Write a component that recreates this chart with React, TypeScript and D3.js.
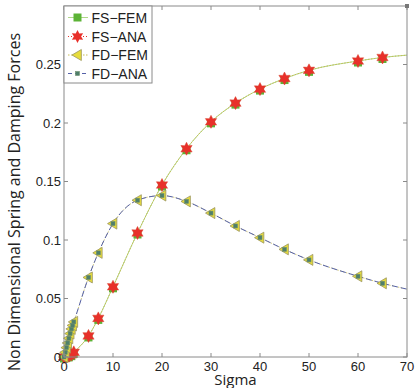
import { useMemo } from "react";
import * as d3 from "d3";

// sigma grid and values
const sigmaFS = [0, 0.5, 1, 1.5, 2, 5, 7, 10, 15, 20, 25, 30, 35, 40, 45, 50, 60, 65, 70];
const fsValues = [0, 0.0005, 0.001, 0.002, 0.004, 0.018, 0.033, 0.06, 0.106, 0.147, 0.178, 0.201, 0.217, 0.229, 0.238, 0.245, 0.253, 0.256, 0.258];

const sigmaFD = [0, 0.25, 0.5, 0.75, 1, 1.25, 1.5, 1.75, 2, 5, 7, 10, 15, 20, 25, 30, 35, 40, 45, 50, 60, 65, 70];
const fdValues = [0, 0.004, 0.008, 0.012, 0.016, 0.02, 0.024, 0.027, 0.03, 0.068, 0.089, 0.114, 0.134, 0.138, 0.133, 0.123, 0.112, 0.102, 0.092, 0.083, 0.069, 0.063, 0.058];

const markerMaxSigma = 65; // last point carries no marker
const strayPoint = { s: 70, v: 0.3 };

const xTicks = [0, 10, 20, 30, 40, 50, 60, 70];
const yTicks = [0, 0.05, 0.1, 0.15, 0.2, 0.25];
const legendLabels = ["FS\u2212FEM", "FS\u2212ANA", "FD\u2212FEM", "FD\u2212ANA"];

const W = 418;
const H = 388;
const margin = { left: 64, right: 11, top: 6, bottom: 31 };
const FONT = "'Liberation Sans', Arial, sans-serif";
const LABEL_FONT = "'Open Sans', 'Liberation Sans', sans-serif";

const C = {
  axis: "#8a8a8a",
  green: "#5cb336",
  greenLine: "#9acb6a",
  red: "#e8302a",
  olive: "#c8bd55",
  yellow: "#e6dc3c",
  triEdge: "#9a9460",
  blue: "#5561a8",
  dot: "#4f7f6a",
};

function star(cx: number, cy: number, r: number) {
  // six-pointed star (hexagram)
  const pts: string[] = [];
  for (let i = 0; i < 12; i++) {
    const a = (Math.PI / 6) * i - Math.PI / 2;
    const rr = i % 2 === 0 ? r : r * 0.55;
    pts.push(`${cx + rr * Math.cos(a)},${cy + rr * Math.sin(a)}`);
  }
  return pts.join(" ");
}

function leftTri(cx: number, cy: number, r: number) {
  return `${cx - r},${cy} ${cx + r * 0.7},${cy - r} ${cx + r * 0.7},${cy + r}`;
}

function Square({ x, y, s, fill, stroke }: { x: number; y: number; s: number; fill: string; stroke?: string }) {
  return <rect x={x - s / 2} y={y - s / 2} width={s} height={s} fill={fill} stroke={stroke ?? "none"} strokeWidth={0.6} />;
}

export default function App() {
  const innerW = W - margin.left - margin.right;
  const innerH = H - margin.top - margin.bottom;

  const x = useMemo(() => d3.scaleLinear().domain([0, 70]).range([margin.left, margin.left + innerW]), [innerW]);
  const y = useMemo(() => d3.scaleLinear().domain([0, 0.3]).range([margin.top + innerH, margin.top]), [innerH]);

  const fs = sigmaFS.map((s, i) => ({ s, v: fsValues[i] }));
  const fd = sigmaFD.map((s, i) => ({ s, v: fdValues[i] }));
  const fsM = fs.filter((d) => d.s <= markerMaxSigma);
  const fdM = fd.filter((d) => d.s <= markerMaxSigma);

  const line = d3
    .line<{ s: number; v: number }>()
    .x((d) => x(d.s))
    .y((d) => y(d.v))
    .curve(d3.curveMonotoneX);

  const x0 = x(0);
  const x1 = x(70);
  const y0 = y(0);
  const y1 = y(0.3);

  const legendX = 64;
  const legendY = 6;
  const legendRows = [17.5, 36.5, 55, 73.5];

  return (
    <div style={{ position: "absolute", left: 0, top: 0 }}>
      <svg width={W} height={H} style={{ display: "block", background: "#fff" }}>
        {/* series lines */}
        <path d={line(fs) ?? ""} fill="none" stroke={C.greenLine} strokeWidth={0.8} />
        <path d={line(fs) ?? ""} fill="none" stroke={C.olive} strokeWidth={1} strokeDasharray="1.5,1.5" />
        <path d={line(fd) ?? ""} fill="none" stroke={C.olive} strokeWidth={0.8} strokeDasharray="1.5,1.5" />
        <path d={line(fd) ?? ""} fill="none" stroke={C.blue} strokeWidth={1} strokeDasharray="6,3" />

        {/* FS-FEM squares */}
        {fsM.map((d, i) => (
          <Square key={`fsf${i}`} x={x(d.s)} y={y(d.v) + 1.5} s={8} fill={C.green} />
        ))}
        {/* FS-ANA stars */}
        {fsM.map((d, i) => (
          <polygon key={`fsa${i}`} points={star(x(d.s), y(d.v), 6.5)} fill={C.red} stroke="#d8402c" strokeWidth={0.5} />
        ))}
        {/* FD-FEM triangles */}
        {fdM.map((d, i) => (
          <polygon key={`fdf${i}`} points={leftTri(x(d.s), y(d.v), 5.5)} fill={C.yellow} stroke={C.triEdge} strokeWidth={0.8} />
        ))}
        {/* FD-ANA small squares */}
        {fdM.map((d, i) => (
          <Square key={`fda${i}`} x={x(d.s)} y={y(d.v)} s={4} fill={C.dot} stroke="#6f8f6f" />
        ))}

        {/* axes box */}
        <rect x={x0} y={y1} width={x1 - x0} height={y0 - y1} fill="none" stroke={C.axis} strokeWidth={1} />
        {xTicks.map((t) => (
          <g key={`xt${t}`}>
            <line x1={x(t)} x2={x(t)} y1={y0} y2={y0 - 4} stroke={C.axis} />
            <line x1={x(t)} x2={x(t)} y1={y1} y2={y1 + 4} stroke={C.axis} />
            <text x={x(t)} y={y0 + 14} textAnchor="middle" fontSize={13} fontFamily={FONT} fill="#222">
              {t}
            </text>
          </g>
        ))}
        {yTicks.map((t) => (
          <g key={`yt${t}`}>
            <line x1={x0} x2={x0 + 4} y1={y(t)} y2={y(t)} stroke={C.axis} />
            <line x1={x1} x2={x1 - 4} y1={y(t)} y2={y(t)} stroke={C.axis} />
            <text x={x0 - 3} y={y(t) + 4.5} textAnchor="end" fontSize={13} fontFamily={FONT} fill="#222">
              {t}
            </text>
          </g>
        ))}

        {/* stray marker in the corner */}
        <Square x={x(strayPoint.s)} y={y(strayPoint.v)} s={4} fill="#777" />

        {/* axis labels */}
        <text x={x(35)} y={385} textAnchor="middle" fontSize={15} fontFamily={LABEL_FONT} fill="#222">
          Sigma
        </text>
        <text
          transform={`translate(20, ${202}) rotate(-90)`}
          textAnchor="middle"
          fontSize={16}
          fontFamily={LABEL_FONT}
          fill="#222"
        >
          Non Dimensional Spring and Damping Forces
        </text>

        {/* legend */}
        <rect x={legendX} y={legendY} width={88} height={77} fill="#fff" stroke={C.axis} strokeWidth={1} />
        {legendLabels.map((lab, i) => {
          const ly = legendRows[i];
          const mx = 77.5;
          return (
            <g key={lab}>
              {i === 0 && (
                <>
                  <line x1={68} x2={88} y1={ly} y2={ly} stroke={C.greenLine} strokeWidth={0.8} />
                  <Square x={mx} y={ly} s={8} fill={C.green} />
                </>
              )}
              {i === 1 && (
                <>
                  <line x1={68} x2={88} y1={ly} y2={ly} stroke={C.red} strokeWidth={1} strokeDasharray="1,2" />
                  <polygon points={star(mx, ly, 6.5)} fill={C.red} />
                </>
              )}
              {i === 2 && (
                <>
                  <line x1={68} x2={88} y1={ly} y2={ly} stroke={C.olive} strokeWidth={1} strokeDasharray="1.5,1.5" />
                  <polygon points={leftTri(mx, ly, 5.5)} fill={C.yellow} stroke={C.triEdge} strokeWidth={0.8} />
                </>
              )}
              {i === 3 && (
                <>
                  <line x1={68} x2={88} y1={ly} y2={ly} stroke={C.blue} strokeWidth={1} strokeDasharray="4,3" />
                  <Square x={mx} y={ly} s={4} fill={C.dot} stroke="#6f8f6f" />
                </>
              )}
              <text x={91.5} y={ly + 5} fontSize={14} fontFamily={FONT} fill="#222">
                {lab}
              </text>
            </g>
          );
        })}
      </svg>
    </div>
  );
}
